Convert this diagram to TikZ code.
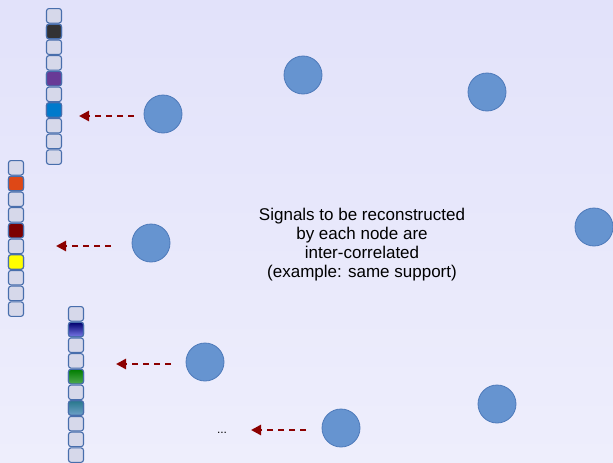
\documentclass[tikz,border=0pt]{standalone}
\usepackage{fontspec}
\setmainfont{Liberation Sans}
\usetikzlibrary{arrows.meta,positioning}
\definecolor{bgtop}{RGB}{226,226,250}
\definecolor{bgbot}{RGB}{238,238,252}
\definecolor{cellfill}{RGB}{214,216,234}
\definecolor{cellline}{RGB}{72,110,172}
\definecolor{nodefill}{RGB}{102,148,208}
\definecolor{nodeline}{RGB}{78,122,186}
\definecolor{arrowred}{RGB}{140,0,0}
\tikzset{
  cell/.style = {draw=cellline, fill=cellfill, line width=1.1pt, rounded corners=2.5pt,
                 minimum width=15pt, minimum height=14.5pt, inner sep=0pt},
  sensor/.style = {draw=nodeline, fill=nodefill, circle, line width=0.8pt,
                   minimum size=38pt, inner sep=0pt},
  link/.style = {draw=arrowred, line width=2.6pt, dash pattern=on 6pt off 5pt,
                 -{Triangle[length=10pt,width=10pt]}, shorten >=0pt}
}
\begin{document}
\begin{tikzpicture}[x=1pt, y=-1pt]
  % background
  \shade[top color=bgtop, bottom color=bgbot] (0,0) rectangle (613,463);
  \useasboundingbox (0,0) rectangle (613,463);

  % signal vectors: 10 entries each
  \foreach \col/\cx/\cy in {a/54/15.8, b/16/167.8, c/76/313.8} {
    \foreach \i in {0,...,9}
      \node[cell] (\col\i) at (\cx, \cy+15.7*\i) {};
  }
  % non-zero entries
  \node[cell, fill={rgb,255:red,50;green,50;blue,52}] at (a1) {};
  \node[cell, fill={rgb,255:red,104;green,58;blue,150}] at (a4) {};
  \node[cell, fill={rgb,255:red,0;green,122;blue,204}] at (a6) {};
  \node[cell, fill={rgb,255:red,222;green,72;blue,22}] at (b1) {};
  \node[cell, fill={rgb,255:red,124;green,0;blue,0}] at (b4) {};
  \node[cell, fill={rgb,255:red,255;green,255;blue,0}] at (b6) {};
  \node[cell, top color={rgb,255:red,0;green,0;blue,110}, bottom color={rgb,255:red,120;green,120;blue,230}] at (c1) {};
  \node[cell, top color={rgb,255:red,0;green,125;blue,0}, bottom color={rgb,255:red,80;green,170;blue,80}] at (c4) {};
  \node[cell, top color={rgb,255:red,40;green,120;blue,140}, bottom color={rgb,255:red,110;green,160;blue,200}] at (c6) {};

  % network nodes
  \node[sensor] (s1) at (163,114) {};
  \node[sensor] (s2) at (303,75) {};
  \node[sensor] (s3) at (487,92) {};
  \node[sensor] (s4) at (151,243) {};
  \node[sensor] (s5) at (594,227) {};
  \node[sensor] (s6) at (205,362) {};
  \node[sensor] (s7) at (497,404) {};
  \node[sensor] (s8) at (341,428) {};

  % arrow tips
  \coordinate (t1) at (79,116);
  \coordinate (t2) at (56,246);
  \coordinate (t3) at (116,364);
  \coordinate (t4) at (251,430);
  \coordinate (f1) at (134,116);
  \coordinate (f2) at (111,246);
  \coordinate (f3) at (171,364);
  \coordinate (f4) at (306,430);
  \foreach \k in {1,...,4}
    \draw[link] (f\k) -- (t\k);

  \node[font=\fontsize{12pt}{12pt}\selectfont] (dots) at (222,433) {...};

  \node[align=center, font=\fontsize{17pt}{19pt}\selectfont] (note) at (362,245)
    {Signals to be reconstructed\\by each node are\\inter-correlated\\(example: same support)};
\end{tikzpicture}
\end{document}
